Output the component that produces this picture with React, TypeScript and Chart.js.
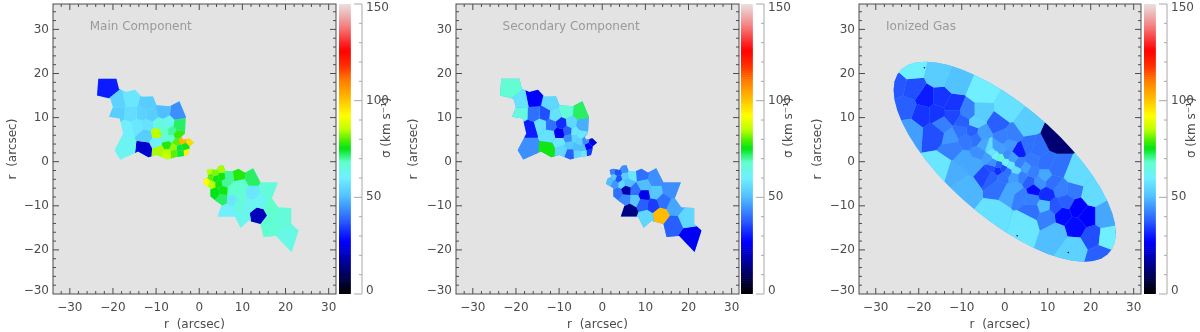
import React, { useEffect, useRef } from "react";
import { Chart, registerables } from "chart.js";

Chart.register(...registerables);

const FONT = "'DejaVu Sans'";
const majorTicks = [-30, -20, -10, 0, 10, 20, 30];
const minorTicks = [-34, -32, -28, -26, -24, -22, -18, -16, -14, -12, -8, -6, -4, -2, 2, 4, 6, 8, 12, 14, 16, 18, 22, 24, 26, 28, 32, 34];
const barMajor = [0, 50, 100, 150];
const barMinor = [10, 20, 30, 40, 60, 70, 80, 90, 110, 120, 130, 140];

// colour table: sigma -> rgb
const cmapSigma = [0, 10, 27, 40, 50, 60, 68, 75, 80, 85, 92, 100, 110, 118, 126, 138, 150];
const cmapRgb = [
  [0, 0, 0], [0, 0, 95], [0, 0, 255], [48, 112, 255], [80, 190, 255], [112, 240, 255], [96, 255, 205], [0, 228, 20],
  [90, 240, 0], [190, 255, 0], [255, 255, 0], [255, 195, 0], [255, 125, 0], [255, 45, 0], [255, 0, 0], [245, 125, 125], [232, 226, 226],
];
function sigmaColor(s: number) {
  let i = 0;
  while (i < cmapSigma.length - 2 && s > cmapSigma[i + 1]) i++;
  const t = Math.max(0, Math.min(1, (s - cmapSigma[i]) / (cmapSigma[i + 1] - cmapSigma[i])));
  const c = cmapRgb[i].map((v, k) => Math.round(v + (cmapRgb[i + 1][k] - v) * t));
  return `rgb(${c[0]},${c[1]},${c[2]})`;
}

// ---- stellar bins, north-west clump
const nwOutline = [
  [-23.4, 18.8], [-19.2, 18.8], [-18.6, 16.5], [-16.9, 15.8], [-14.9, 16.3], [-13.4, 14.7], [-10.7, 14.8], [-9.9, 12.8], [-6.8, 12.6], [-4.6, 13.7],
  [-3.1, 10.2], [-3.3, 9.2], [-3.3, 6.4], [-4.1, 5.6], [-3.7, 5.0], [-2.3, 5.3], [-1.2, 4.3], [-2.2, 3.5], [-2.3, 2.6], [-2.6, 1.5], [-3.3, 1.3],
  [-5.6, 1.0], [-7.4, 0.5], [-9.9, 1.5], [-11.8, 1.0], [-14.2, 2.3], [-18.3, 0.5], [-19.6, 2.6], [-17.6, 6.4], [-18.4, 9.8], [-20.9, 10.2], [-20, 12.4], [-20.6, 14.3], [-23.7, 15.0],
];
const nwBinX = [-21.3, -18.8, -15.9, -12.1, -8.4, -5.1, -18.9, -15.7, -13.4, -11, -16.9, -14.2, -11.9, -9.5, -7.2, -4.7, -9.9, -8, -12.2, -16.9, -12.6, -9.9, -9.3, -7.4, -7.4, -7.7, -6, -5.9, -5.1, -5.3, -4.5, -4.3, -3.3, -3.9, -2.2, -2.9, -6.4, -6.4];
const nwBinY = [16.7, 13.5, 14.1, 13.2, 11.3, 11, 11, 10.9, 10.8, 10.5, 7.5, 8.3, 8.3, 8.6, 8.8, 8.3, 6.5, 6.9, 6, 3.4, 2.9, 4.3, 2.6, 3.8, 1.9, 5.3, 3.2, 2, 6, 4.5, 3, 2, 3.4, 4.7, 4.5, 2.1, 6.8, 5.3];
const nwMainSigma = [30, 54, 58, 53, 50, 44, 53, 56, 54, 53, 60, 58, 57, 65, 63, 72, 85, 68, 53, 62, 22, 60, 84, 77, 86, 66, 83, 80, 78, 80, 74, 74, 76, 102, 97, 94, 70, 68];
const nwSecondSigma = [67, 57, 27, 55, 66, 72, 65, 40, 36, 57, 30, 57, 40, 32, 55, 48, 25, 38, 57, 44, 76, 58, 55, 52, 38, 44, 50, 55, 58, 54, 50, 58, 27, 44, 24, 33, 58, 55];

// ---- stellar bins, south-east clump
const seOutline = [
  [1.7, -1.9], [2.6, -1.6], [3.9, -1.9], [4.6, -0.9], [5.6, -0.8], [6.1, -2.1], [7.9, -2.1], [9.1, -1.6], [10.6, -2.5], [12.5, -1.5], [14.2, -4.7], [18.2, -4.7], [16.8, -8.3],
  [18.3, -10.4], [21.3, -10.5], [21.3, -14.1], [23, -15.6], [21.4, -20.5], [17.8, -16.8], [14.9, -17.1], [14.2, -14.1], [11.4, -13.4], [9.6, -15], [8.3, -12.4], [4.3, -12.4],
  [5.2, -9.8], [4, -9], [2.5, -7.8], [2.6, -6], [1.7, -5.5], [0.9, -5], [1.2, -3.9], [2.1, -3.4],
];
const seBinX = [2.3, 3.5, 5, 6.7, 2.7, 3.7, 5.3, 1.8, 2.9, 4.5, 5.5, 3.6, 7.6, 5.3, 7.6, 9.6, 9.1, 6, 9.6, 12.2, 12.2, 15.8, 14.1, 6.3, 9.4, 11.8, 10.1, 13.5, 16.6, 16.4, 19.7, 20.3];
const seBinY = [-2.1, -2.4, -1.6, -3.2, -3.5, -3.9, -3.4, -4.5, -5, -5, -6.4, -7, -6.5, -8.5, -8.6, -7.6, -3, -4.8, -5.3, -3.8, -7.1, -6.4, -9, -11, -9.5, -9.8, -12.6, -12, -10.2, -14.3, -12.8, -17];
const seMainSigma = [85, 82, 84, 70, 80, 76, 76, 92, 85, 76, 76, 75, 68, 72, 58, 66, 77, 70, 68, 72, 58, 66, 62, 60, 65, 62, 63, 20, 68, 67, 66, 64];
const seSecondSigma = [42, 36, 44, 58, 52, 36, 53, 50, 45, 55, 18, 40, 40, 43, 52, 25, 40, 50, 50, 44, 52, 44, 40, 14, 38, 34, 55, 101, 47, 38, 55, 26];

// ---- ionized gas bins
const gasOutline = [
  [25.85, -16.25], [25.63, -14.04], [24.97, -11.6], [23.88, -8.95], [22.39, -6.15], [20.51, -3.25], [18.28, -0.29], [15.74, 2.68], [12.93, 5.59], [9.89, 8.41], [6.69, 11.09], [3.37, 13.58],
  [0, 15.84], [-3.37, 17.82], [-6.69, 19.51], [-9.89, 20.85], [-12.93, 21.85], [-15.74, 22.46], [-18.28, 22.69], [-20.51, 22.53], [-22.39, 21.99], [-23.88, 21.07], [-24.97, 19.8], [-25.63, 18.18],
  [-25.85, 16.25], [-25.63, 14.04], [-24.97, 11.6], [-23.88, 8.95], [-22.39, 6.15], [-20.51, 3.25], [-18.28, 0.29], [-15.74, -2.68], [-12.93, -5.59], [-9.89, -8.41], [-6.69, -11.09], [-3.37, -13.58],
  [0, -15.84], [3.37, -17.82], [6.69, -19.51], [9.89, -20.85], [12.93, -21.85], [15.74, -22.46], [18.28, -22.69], [20.51, -22.53], [22.39, -21.99], [23.88, -21.07], [24.97, -19.8], [25.63, -18.18],
];
const gasOuterX = [-21.8, -15.2, -11.4, -5.5, 0.6, 4.9, 11.8, 16.5, 20.3, 23, 23.8, 22.3, 16.1, 11.8, 4.9, -2.1, -9, -14.8, -22.2, -25, -21.4, -23];
const gasOuterY = [21.1, 19.6, 18, 15.5, 11.7, 8.3, 5.2, -3.5, -7.5, -12.4, -17.3, -21.4, -19.5, -16.2, -13.9, -11.7, -6, -1.1, 6.8, 17.3, 16.5, 12.4];
const gasOuterSigma = [60, 53, 51, 60, 57, 53, 12, 56, 56, 47, 60, 38, 54, 50, 58, 57, 49, 58, 46, 37, 36, 38];
const gasWestX = [-18.3, -14.8, -12.1, -19.1, -16, -12.1, -16, -14.5, -12.5, -12.1, -8.5, -5.6, -6.7, -9.8, -10.2, -7.5, -9, -6.7, -5.2, -4.8, -9.4, -5.9, -6.7, -11.4];
const gasWestY = [14.3, 14.3, 12.8, 11, 11, 10.5, 6.4, 8.3, 5.6, 3, 11.3, 11.3, 9, 9, 6.8, 6.8, 4.9, 5.3, 6.4, 3.8, 0.4, 1.9, -0.4, -2.2];
const gasWestSigma = [30, 33, 33, 33, 33, 35, 36, 42, 45, 42, 42, 53, 54, 38, 40, 38, 41, 40, 46, 47, 47, 44, 47, 48];
const gasEastX = [-1.7, -0.5, 1.8, 1.2, 3.3, 5.6, 6.4, 7.4, 9.5, 11.8, 9.5, 6.4, 4.9, 4.1, 6.8, 9.5, 5.6, 8, 2.6, 1, -1.3, -4.4, -0.5, 2.2, -2.9, 6.4, 9.1, 9.9, 11.8, 14.2, 13.4, 11, 15.7, 16.9, 19.2, 13.4, 16.5, 20.3, 3.7, 6.4];
const gasEastY = [8.5, 5.6, 6, 3.8, 2.5, 3.4, 0.4, 2.9, -0.4, -1.6, -3, -2.3, -1.5, -3.4, -6.4, -7.5, -4.5, -4.9, -6, -6.8, -5.6, -2.6, -3.4, -3.4, -3.4, -10.9, -10, -12.4, -10.2, -9, -6.4, -4.5, -6.5, -10.5, -12.4, -12, -14.7, -16.9, -7.5, -8.5];
const gasEastSigma = [38, 42, 42, 45, 30, 40, 41, 40, 40, 40, 47, 42, 46, 42, 28, 32, 38, 44, 47, 47, 40, 35, 40, 46, 38, 40, 50, 42, 37, 38, 42, 40, 41, 27, 27, 28, 28, 36, 42, 42];
const gasCoreX = [-3.6, -3, -2.1, -0.9, 0.2, 1.4, 2.6, -2.1, -0.9, 0.4, 1.8, 3.3, -4, -2.9, -1.3, -0.4, 0.6, -1.5, -3.2];
const gasCoreY = [3.4, 2.3, 1.5, 0.9, -0.2, -0.8, -2, 3.4, 2.6, 1.5, 0.8, -0.4, 0.8, -0.4, -0.8, -1.5, -2.3, -2, -1.5];
const gasCoreSigma = [56, 58, 60, 67, 60, 58, 56, 46, 46, 44, 46, 42, 46, 44, 38, 35, 40, 32, 36];
const gasSpeckX = [-18.7, 2.9, 14.8];
const gasSpeckY = [21.3, -16.8, -20.6];
const gasSpeckSigma = [22, 22, 12];

const panelTitles = ["Main Component", "Secondary Component", "Ionized Gas"];
const panelTitleX = [-25.4, -23.1, -27.6];
const panelTitleY = 30.6;
const xTitle = "r  (arcsec)";
const yTitle = "r  (arcsec)";
const barTitle = "σ (km s⁻¹)";

type Pt = number[];
function clipHalf(poly: Pt[], a: Pt, b: Pt): Pt[] {
  const mx = (a[0] + b[0]) / 2, my = (a[1] + b[1]) / 2, nx = b[0] - a[0], ny = b[1] - a[1];
  const f = (p: Pt) => (p[0] - mx) * nx + (p[1] - my) * ny;
  const out: Pt[] = [];
  for (let i = 0; i < poly.length; i++) {
    const p = poly[i], q = poly[(i + 1) % poly.length];
    const fp = f(p), fq = f(q);
    if (fp <= 0) out.push(p);
    if (fp < 0 !== fq < 0) {
      const t = fp / (fp - fq);
      out.push([p[0] + (q[0] - p[0]) * t, p[1] + (q[1] - p[1]) * t]);
    }
  }
  return out;
}
function voronoi(outline: Pt[], xs: number[], ys: number[]) {
  return xs.map((x, i) => {
    let poly = outline;
    xs.forEach((ox, j) => {
      if (j !== i && poly.length) poly = clipHalf(poly, [x, ys[i]], [ox, ys[j]]);
    });
    return poly;
  });
}
function shape(poly: Pt[], sigma: number) {
  return {
    type: "scatter",
    data: poly.map((p) => ({ x: p[0], y: p[1] })),
    showLine: true,
    fill: "shape",
    backgroundColor: sigmaColor(sigma),
    borderWidth: 0,
    pointRadius: 0,
    tension: 0,
  };
}
function clumpDatasets(outline: Pt[], xs: number[], ys: number[], sig: number[], base: number) {
  const cells = voronoi(outline, xs, ys);
  return [...cells.map((c, i) => shape(c, sig[i])), shape(outline, base)];
}

const ink = "#4c4c4c";

const frameTicks = {
  id: "frameTicks",
  beforeDatasetsDraw(chart: any) {
    const { ctx, chartArea: a } = chart;
    ctx.save();
    ctx.fillStyle = "#e3e3e3";
    ctx.fillRect(a.left, a.top, a.right - a.left, a.bottom - a.top);
    ctx.restore();
  },
  afterDatasetsDraw(chart: any) {
    const { ctx, chartArea: a, scales } = chart;
    ctx.save();
    ctx.strokeStyle = ink;
    ctx.lineWidth = 1;
    ctx.strokeRect(a.left, a.top, a.right - a.left, a.bottom - a.top);
    const draw = (vals: number[], len: number) => {
      ctx.beginPath();
      vals.forEach((v) => {
        const px = scales.x.getPixelForValue(v);
        if (px > a.left && px < a.right) {
          ctx.moveTo(px, a.bottom); ctx.lineTo(px, a.bottom - len);
          ctx.moveTo(px, a.top); ctx.lineTo(px, a.top + len);
        }
        const py = scales.y.getPixelForValue(v);
        if (py > a.top && py < a.bottom) {
          ctx.moveTo(a.left, py); ctx.lineTo(a.left + len, py);
          ctx.moveTo(a.right, py); ctx.lineTo(a.right - len, py);
        }
      });
      ctx.stroke();
    };
    draw(majorTicks, 6);
    draw(minorTicks, 3);
    const idx = chart.options.plugins.frameTicks.panel;
    ctx.fillStyle = "#9a9a9a";
    ctx.font = `12px ${FONT}`;
    ctx.textBaseline = "middle";
    ctx.fillText(panelTitles[idx], scales.x.getPixelForValue(panelTitleX[idx]), scales.y.getPixelForValue(panelTitleY));
    ctx.restore();
  },
};

const barTicks = {
  id: "barTicks",
  afterDraw(chart: any) {
    const { ctx, chartArea: a, scales } = chart;
    ctx.save();
    ctx.strokeStyle = "#a8a8a8";
    ctx.lineWidth = 1;
    ctx.beginPath();
    ctx.moveTo(a.right, a.top); ctx.lineTo(a.right, a.bottom);
    barMajor.forEach((v) => { const p = scales.y.getPixelForValue(v); ctx.moveTo(a.right, p); ctx.lineTo(a.right - 8, p); });
    barMinor.forEach((v) => { const p = scales.y.getPixelForValue(v); ctx.moveTo(a.right, p); ctx.lineTo(a.right - 3, p); });
    ctx.stroke();
    ctx.fillStyle = ink;
    ctx.font = `12px ${FONT}`;
    ctx.textBaseline = "middle";
    ctx.textAlign = "center";
    ctx.translate(a.right + 25, scales.y.getPixelForValue(86));
    ctx.rotate(-Math.PI / 2);
    ctx.fillText(barTitle, 0, 0);
    ctx.restore();
  },
};

function labelFor(v: number) {
  return String(v).replace("-", "\u2212");
}

const CANVAS_H = 332;
const PLOT_TOP = 4;
const PLOT_BOTTOM = 294;

function MapPanel({ left, axisLeft, panel, titlePad, datasets }: any) {
  const ref = useRef<HTMLCanvasElement>(null);
  const width = 283 + (axisLeft - left) + 3;
  useEffect(() => {
    const chart = new Chart(ref.current as any, {
      type: "scatter",
      data: { datasets },
      plugins: [frameTicks],
      options: {
        animation: false,
        responsive: false,
        layout: { padding: { top: PLOT_TOP, right: 3, left: 0, bottom: 0 } },
        plugins: { legend: { display: false }, tooltip: { enabled: false }, frameTicks: { panel } },
        scales: {
          x: {
            type: "linear", min: -33.9, max: 31.7,
            grid: { display: false, drawTicks: false }, border: { display: false },
            afterBuildTicks: (s: any) => { s.ticks = majorTicks.map((value) => ({ value })); },
            afterFit: (s: any) => { s.height = CANVAS_H - PLOT_BOTTOM; s.paddingLeft = 0; s.paddingRight = 0; },
            ticks: { callback: (v: any) => labelFor(v), autoSkip: false, maxRotation: 0, padding: 7, color: ink, font: { family: FONT, size: 12 } },
            title: { display: true, text: xTitle, color: ink, font: { family: FONT, size: 12 }, padding: { top: 0, bottom: 0 } },
          },
          y: {
            type: "linear", min: -30, max: 35.76,
            grid: { display: false, drawTicks: false }, border: { display: false },
            afterBuildTicks: (s: any) => { s.ticks = majorTicks.map((value) => ({ value })); },
            afterFit: (s: any) => { s.width = axisLeft - left; s.paddingTop = 0; s.paddingBottom = 0; },
            ticks: {
              callback: (v: any) => (v === -30 ? [labelFor(v), ""] : labelFor(v)),
              autoSkip: false, padding: 4, color: ink,
              font: (c: any) => ({ family: FONT, size: 12, lineHeight: c.tick && c.tick.value === -30 ? 0.55 : 1.2 }),
            },
            title: { display: true, text: yTitle, color: ink, font: { family: FONT, size: 12 }, padding: { top: titlePad, bottom: 0 } },
          },
        },
      } as any,
    });
    return () => chart.destroy();
  }, []);
  return <canvas ref={ref} width={width} height={CANVAS_H} style={{ position: "absolute", left, top: 0 }} />;
}

const barLevels = Array.from({ length: 150 }, (_, i) => i);

function ColorBar({ left }: any) {
  const ref = useRef<HTMLCanvasElement>(null);
  useEffect(() => {
    const chart = new Chart(ref.current as any, {
      type: "bar",
      data: {
        labels: ["bar", "gap"],
        datasets: barLevels.map((lv) => ({
          data: [1, null],
          backgroundColor: sigmaColor(lv + 0.5),
          borderWidth: 0,
          barPercentage: 1,
          categoryPercentage: 1,
        })),
      },
      plugins: [barTicks],
      options: {
        animation: false,
        responsive: false,
        layout: { padding: { top: PLOT_TOP, bottom: CANVAS_H - PLOT_BOTTOM, left: 0, right: 0 } },
        plugins: { legend: { display: false }, tooltip: { enabled: false } },
        scales: {
          x: { stacked: true, display: false },
          y: {
            stacked: true, position: "right", min: 0, max: 150,
            grid: { display: false, drawTicks: false }, border: { display: false },
            afterBuildTicks: (s: any) => { s.ticks = barMajor.map((value) => ({ value })); },
            afterFit: (s: any) => { s.width = 38; s.paddingTop = 0; s.paddingBottom = 0; },
            ticks: {
              callback: (v: any) => (v === 150 ? ["", String(v)] : v === 0 ? [String(v), ""] : String(v)),
              autoSkip: false, padding: 4, color: ink,
              font: (c: any) => ({ family: FONT, size: 12, lineHeight: c.tick && (c.tick.value === 150 || c.tick.value === 0) ? 0.6 : 1.2 }),
            },
          },
        },
      } as any,
    });
    return () => chart.destroy();
  }, []);
  return <canvas ref={ref} width={61} height={CANVAS_H} style={{ position: "absolute", left, top: 0 }} />;
}

const specks = gasSpeckX.map((x, i) => ({
  type: "scatter",
  data: [{ x, y: gasSpeckY[i] }],
  pointRadius: 0.8,
  pointBackgroundColor: sigmaColor(gasSpeckSigma[i]),
  pointBorderWidth: 0,
  showLine: false,
}));

export default function App() {
  const main = [
    ...clumpDatasets(nwOutline, nwBinX, nwBinY, nwMainSigma, 62),
    ...clumpDatasets(seOutline, seBinX, seBinY, seMainSigma, 66),
  ];
  const second = [
    ...clumpDatasets(nwOutline, nwBinX, nwBinY, nwSecondSigma, 48),
    ...clumpDatasets(seOutline, seBinX, seBinY, seSecondSigma, 44),
  ];
  const gasX = [...gasOuterX, ...gasWestX, ...gasEastX, ...gasCoreX];
  const gasY = [...gasOuterY, ...gasWestY, ...gasEastY, ...gasCoreY];
  const gasS = [...gasOuterSigma, ...gasWestSigma, ...gasEastSigma, ...gasCoreSigma];
  const gas = [...specks, ...clumpDatasets(gasOutline, gasX, gasY, gasS, 48)];
  const filter = "blur(0.45px)";
  return (
    <div style={{ position: "absolute", left: 0, top: 0, width: 1200, height: CANVAS_H, overflow: "hidden", background: "#fff", filter }}>
      <MapPanel left={0} axisLeft={53} panel={0} titlePad={6} datasets={main} />
      <ColorBar left={339} />
      <MapPanel left={407} axisLeft={456} panel={1} titlePad={0} datasets={second} />
      <ColorBar left={741} />
      <MapPanel left={811} axisLeft={859} panel={2} titlePad={0} datasets={gas} />
      <ColorBar left={1144} />
    </div>
  );
}
